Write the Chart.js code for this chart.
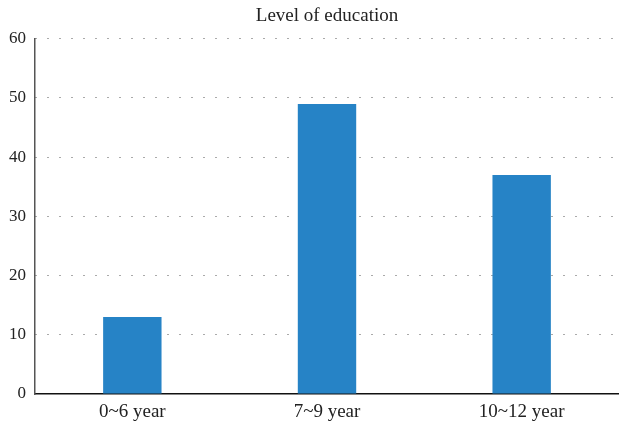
<!DOCTYPE html>
<html>
<head>
<meta charset="utf-8">
<script src="https://cdn.jsdelivr.net/npm/chart.js@4"></script>
<style>
  body { margin: 0; background: #fff; }
  #wrap { width: 619px; height: 424px; }
</style>
</head>
<body>
<div id="wrap"><canvas id="edu-chart" width="619" height="424"></canvas></div>
<script>
const categories = ['0~6 year', '7~9 year', '10~12 year'];
const counts = [13, 49, 37];
const yTicks = [0, 10, 20, 30, 40, 50, 60];

const barColor = '#2683c6';
const fontFamily = '"Liberation Serif", "DejaVu Serif", serif';

const data = {
    labels: categories,
    datasets: [{
        label: 'Level of education',
        data: counts,
        backgroundColor: barColor,
        barPercentage: 1,
        categoryPercentage: 0.3
    }]
};

const options = {
    responsive: false,
    animation: false,
    layout: { padding: 0 },
    plugins: {
        legend: { display: false },
        tooltip: { enabled: false },
        title: {
            display: true,
            text: 'Level of education',
            fullSize: false,
            color: '#222',
            font: { family: fontFamily, size: 19, weight: 'normal', lineHeight: 1.2 },
            padding: { top: 5, bottom: 11 }
        }
    },
    scales: {
        x: {
            afterFit: (scale) => { scale.height = 30; },
            grid: { display: false },
            border: { color: '#111', width: 1.5 },
            ticks: {
                color: '#222',
                padding: 0,
                font: { family: fontFamily, size: 19, lineHeight: 1.1 }
            }
        },
        y: {
            min: 0,
            max: 60,
            afterBuildTicks: (scale) => {
                scale.ticks = yTicks.map(v => ({ value: v }));
            },
            afterFit: (scale) => { scale.width = 35; },
            grid: {
                color: (c) => (c.tick && c.tick.value === 0 ? 'rgba(0,0,0,0)' : '#555'),
                lineWidth: 1,
                drawTicks: false
            },
            border: { color: '#555', width: 1.5, dash: [1, 11] },
            ticks: {
                color: '#222',
                padding: 9,
                font: { family: fontFamily, size: 17 }
            }
        }
    }
};

const ctx = document.getElementById('edu-chart').getContext('2d');
new Chart(ctx, {
    type: 'bar',
    data: data,
    options: options
});
</script>
</body>
</html>
